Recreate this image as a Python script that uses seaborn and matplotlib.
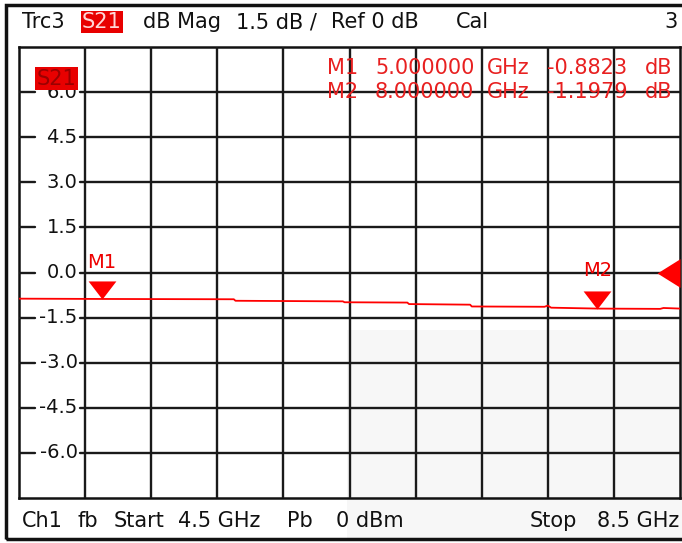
import matplotlib
matplotlib.use("Agg")
import matplotlib.pyplot as plt
from matplotlib.patches import Rectangle
import pandas as pd
import seaborn as sns

# trace S21 (dB)
freq_ghz = [4.5, 5.0, 5.80, 5.81, 6.46, 6.47, 6.85, 6.86, 7.23, 7.24,
            7.68, 7.70, 7.72, 8.0, 8.38, 8.40, 8.5]
s21_db = [-0.87, -0.88, -0.89, -0.94, -0.96, -0.99, -1.00, -1.05, -1.07, -1.13,
          -1.14, -1.10, -1.17, -1.20, -1.21, -1.18, -1.20]

marker_names = ["M1", "M2"]
marker_freqs = [5.0, 8.0]
marker_vals = [-0.8823, -1.1979]

y_ticks = [6.0, 4.5, 3.0, 1.5, 0.0, -1.5, -3.0, -4.5, -6.0]
f_start, f_stop = 4.5, 8.5
ref_db = 0.0

sns.set_style("white")
plt.rcParams['font.family'] = ['DejaVu Sans']

W, H = 682, 543
FS = 15
fig = plt.figure(figsize=(W / 100, H / 100), dpi=100)

def fx(x):
    return x / W

def fy(y):
    return 1 - y / H

ax = fig.add_axes([fx(19), fy(498), (680 - 19) / W, (498 - 47) / H])
ax.patch.set_visible(False)

# faint watermark area
fig.add_artist(Rectangle((fx(347), fy(540)), (W - 347) / W, (540 - 330) / H,
                         transform=fig.transFigure, fc='#f7f7f7', ec='none', zorder=-5))

df = pd.DataFrame({"freq": freq_ghz, "db": s21_db})
sns.lineplot(data=df, x="freq", y="db", ax=ax, color="#ff0000", lw=1.3, zorder=4)

ax.set_xlim(f_start, f_stop)
ax.set_ylim(-7.5, 7.5)
ax.set_xticks([])
ax.set_yticks([])
ax.set_xlabel("")
ax.set_ylabel("")
for s in ax.spines.values():
    s.set_color("#111111")
    s.set_linewidth(1.8)

grid_kw = dict(color="#1a1a1a", lw=1.7, zorder=3)
step = (f_stop - f_start) / 10
for i in range(1, 10):
    ax.axvline(f_start + i * step, **grid_kw)

lab_end = (80 - 19) / 661
dash_end = (35 - 19) / 661
for t in y_ticks:
    ax.axhline(t, xmin=lab_end, xmax=1, **grid_kw)
    ax.axhline(t, xmin=0, xmax=dash_end, **grid_kw)
    ax.text(f_start + 0.355, t, f"{t:.1f}", ha="right", va="center",
            fontsize=14, color="#111111", zorder=3)

# trace label box
ax.text(4.605, 6.45, "S21", fontsize=FS, color="#9a0000", ha="left", va="center",
        bbox=dict(fc="#e80000", ec="none", pad=1.0), zorder=6)

# markers
for name, f, v in zip(marker_names, marker_freqs, marker_vals):
    ax.plot([f], [v], marker=[(-1, 1.3), (1, 1.3), (0, 0)], markersize=26,
            color="#ff0000", mec="none", zorder=5, clip_on=False)
    ax.annotate(name, (f, v), xytext=(0, 27 if name == "M1" else 29),
                textcoords="offset pixels", ha="center", va="bottom",
                fontsize=14, color="#ee0000", zorder=5)

# reference level arrow
ax.plot([f_stop], [ref_db], marker=[(0, 1), (0, -1), (-1.6, 0)], markersize=33,
        color="#ff0000", mec="none", zorder=5, clip_on=False)

# marker readout
for i, (name, f, v) in enumerate(zip(marker_names, marker_freqs, marker_vals)):
    y = 68 + 24 * i
    kw = dict(fontsize=FS, color="#e82020", va="center", zorder=1)
    fig.text(fx(327), fy(y), name, **kw)
    fig.text(fx(375), fy(y), f"{f:.6f}", **kw)
    fig.text(fx(487), fy(y), "GHz", **kw)
    fig.text(fx(547), fy(y), f"{v:.4f}", **kw)
    fig.text(fx(645), fy(y), "dB", **kw)

# header
hkw = dict(fontsize=FS, color="#111111", va="center")
fig.text(fx(22), fy(22), "Trc3", **hkw)
fig.text(fx(82), fy(22), "S21", fontsize=FS, color="#ffd6d6", va="center",
         bbox=dict(fc="#e80000", ec="none", pad=1.0))
fig.text(fx(143), fy(22), "dB Mag", **hkw)
fig.text(fx(236), fy(22), "1.5 dB /", **hkw)
fig.text(fx(331), fy(22), "Ref 0 dB", **hkw)
fig.text(fx(456), fy(22), "Cal", **hkw)
fig.text(fx(678), fy(22), "3", ha="right", fontsize=FS, color="#111111", va="center")

# footer
fig.text(fx(22), fy(521), "Ch1", **hkw)
fig.text(fx(78), fy(521), "fb", **hkw)
fig.text(fx(114), fy(521), "Start", **hkw)
fig.text(fx(178), fy(521), f"{f_start} GHz", **hkw)
fig.text(fx(287), fy(521), "Pb", **hkw)
fig.text(fx(336), fy(521), "0 dBm", **hkw)
fig.text(fx(530), fy(521), "Stop", **hkw)
fig.text(fx(679), fy(521), f"{f_stop} GHz", ha="right", fontsize=FS,
         color="#111111", va="center")

# outer frame
fig.add_artist(Rectangle((fx(6), fy(539)), (W + 10 - 6) / W, (539 - 5) / H,
                         transform=fig.transFigure, fill=False, ec="#111111",
                         lw=2.5, zorder=10))

fig.savefig("out.png", dpi=100)
